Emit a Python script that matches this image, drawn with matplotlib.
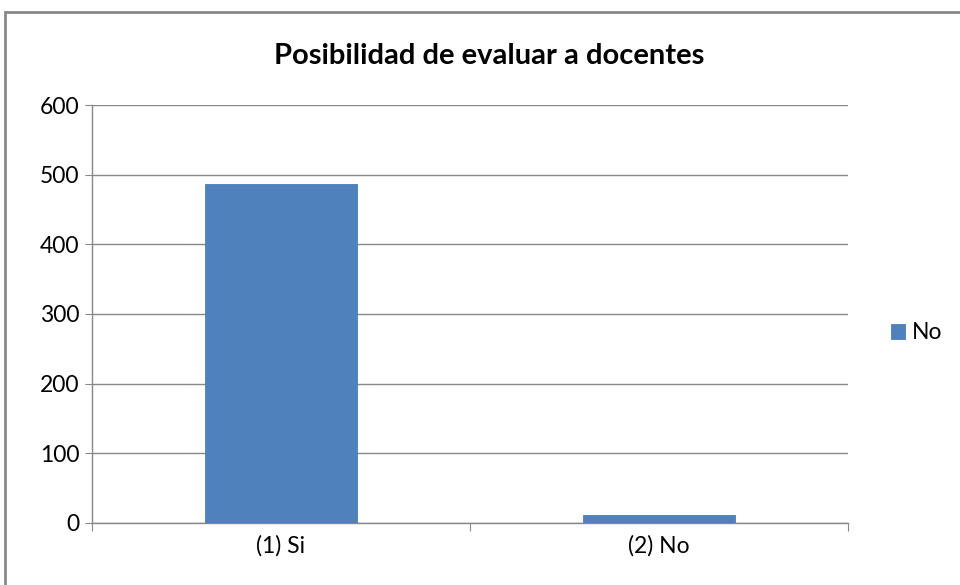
import matplotlib.pyplot as plt
from matplotlib.patches import Rectangle

categories = ['(1) Si', '(2) No']
values = [486, 12]
series_name = 'No'
yticks = [0, 100, 200, 300, 400, 500, 600]

plt.rcParams['font.family'] = ['Lato', 'DejaVu Sans']

fig = plt.figure(figsize=(9.6, 5.85), dpi=100)
ax = fig.add_axes([0.0958, 0.106, 0.7875, 0.7145])

bar_color = '#4F81BD'
x = list(range(len(categories)))
ax.bar(x, values, width=0.4, color=bar_color, edgecolor='#4A7EBB', linewidth=0.6,
       label=series_name, zorder=3)

ax.set_xlim(-0.5, len(categories) - 0.5)
ax.set_ylim(0, 600)
ax.set_yticks(yticks)
ax.yaxis.grid(True, color='#888888', linewidth=1.0, zorder=0)

# category ticks sit on the boundaries, labels in the middle
ax.set_xticks([-0.5, 0.5, 1.5])
ax.set_xticklabels([])
ax.set_xticks(x, minor=True)
ax.set_xticklabels(categories, minor=True, fontsize=16.5)
ax.tick_params(axis='x', which='major', length=6, color='#888888', direction='out')
ax.tick_params(axis='x', which='minor', length=0, pad=9)
ax.tick_params(axis='y', length=5, color='#888888', labelsize=16.5, pad=4)

for side in ['top', 'right']:
    ax.spines[side].set_visible(False)
for side in ['left', 'bottom']:
    ax.spines[side].set_color('#888888')
    ax.spines[side].set_linewidth(1.0)

fig.text(0.51, 0.905, 'Posibilidad de evaluar a docentes', ha='center', va='center',
         fontsize=21, fontweight='bold')

ax.legend(loc='center left', bbox_to_anchor=(1.03, 0.455), frameon=False, fontsize=16.5,
          handlelength=0.6, handleheight=0.6, handletextpad=0.3)

# outer chart border
fig.patches.append(Rectangle((5 / 960, -0.01), 1.0, 1 - 12 / 585 + 0.01,
                             transform=fig.transFigure, fill=False,
                             edgecolor='#888888', linewidth=2))

fig.savefig('out.png', dpi=100)
